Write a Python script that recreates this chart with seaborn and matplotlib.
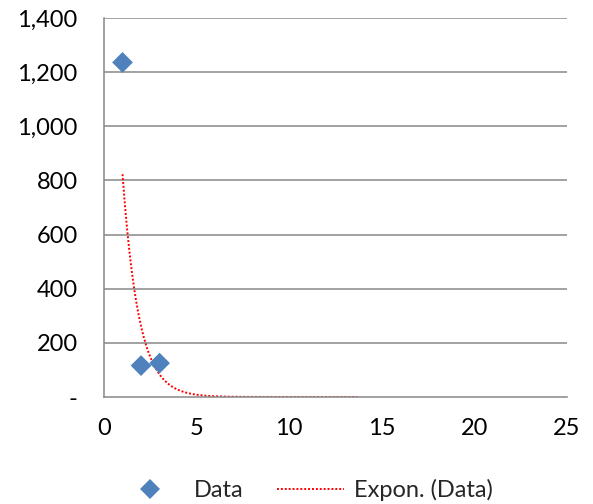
import numpy as np
import pandas as pd
import matplotlib
matplotlib.use("Agg")
import matplotlib.pyplot as plt
import seaborn as sns
from matplotlib.lines import Line2D
from matplotlib.ticker import FuncFormatter

# Observations
x_values = [1, 2, 3]
y_values = [1236, 116, 125]
trend_end = 13.7          # trendline forecast end on the x axis

x_ticks = [0, 5, 10, 15, 20, 25]
y_ticks = [0, 200, 400, 600, 800, 1000, 1200, 1400]

sns.set_theme(style="white")
plt.rcParams["font.family"] = ["Lato", "DejaVu Sans"]

df = pd.DataFrame({"x": x_values, "y": y_values})

# Exponential fit y = a * exp(b x) via least squares on log(y)
b, ln_a = np.polyfit(df["x"], np.log(df["y"]), 1)
tx = np.linspace(min(x_values), trend_end, 200)
trend = pd.DataFrame({"x": tx, "y": np.exp(ln_a + b * tx)})

fig = plt.figure(figsize=(5.93, 5.04), dpi=100)
ax = fig.add_axes([104 / 593, 1 - 397 / 504, (567 - 104) / 593, (397 - 18) / 504])

grid_color = "#878787"
point_color = "#4F81BD"
font_size = 17

for yv in y_ticks[1:]:
    ax.axhline(yv, color=grid_color, lw=1.1, zorder=0)

sns.lineplot(data=trend, x="x", y="y", ax=ax, color="#FF0000", lw=1.4,
             linestyle=(0, (1, 1)), zorder=2, legend=False)
sns.scatterplot(data=df, x="x", y="y", ax=ax, marker="D", s=112,
                color=point_color, edgecolor="none", zorder=3, legend=False)

ax.set_xlim(0, 25)
ax.set_ylim(0, 1400)
ax.set_xticks(x_ticks)
ax.set_yticks(y_ticks)
ax.yaxis.set_major_formatter(FuncFormatter(lambda v, p: "-" if v == 0 else f"{int(v):,}"))
ax.set_xlabel("")
ax.set_ylabel("")

for side in ("top", "right"):
    ax.spines[side].set_visible(False)
for side in ("left", "bottom"):
    ax.spines[side].set_color(grid_color)
    ax.spines[side].set_linewidth(1.1)

ax.tick_params(axis="both", which="major", direction="out", length=6,
               width=1.1, color=grid_color, labelsize=font_size, labelcolor="black")
ax.tick_params(axis="y", pad=13)
ax.tick_params(axis="x", pad=9)

handles = [
    Line2D([], [], marker="D", color=point_color, linestyle="none", markersize=10,
           markeredgewidth=0),
    Line2D([], [], color="#FF0000", lw=1.4, linestyle=(0, (1, 1))),
]
fig.legend(handles, ["Data", "Expon. (Data)"], loc="center",
           bbox_to_anchor=(305 / 593, 1 - 490 / 504), ncol=2, frameon=False,
           fontsize=font_size, handlelength=2.84, handletextpad=0.42,
           columnspacing=1.44, borderpad=0.2)

fig.savefig("out.png", dpi=100)
